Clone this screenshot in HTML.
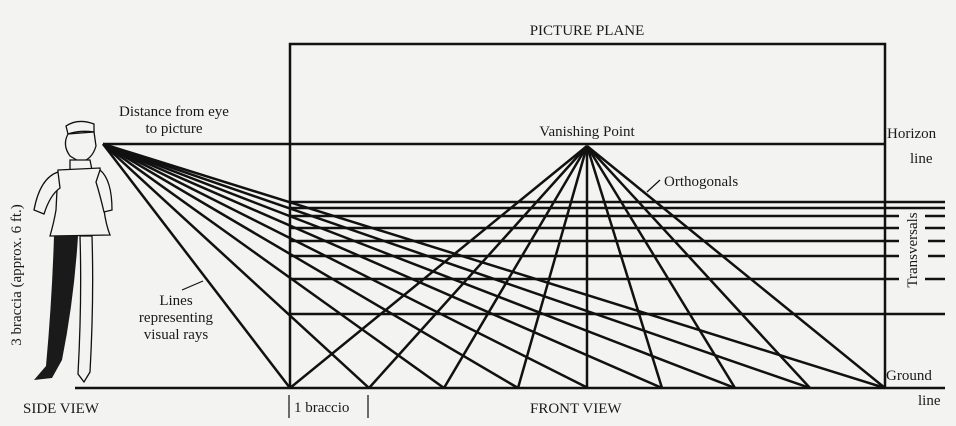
<!DOCTYPE html>
<html><head><meta charset="utf-8"><style>
html,body{margin:0;padding:0;background:#f3f3f1;}
svg{display:block;}
text{font-family:"Liberation Serif",serif;fill:#1a1a1a;}
</style></head><body>
<svg width="956" height="426" viewBox="0 0 956 426" xmlns="http://www.w3.org/2000/svg">
<rect width="956" height="426" fill="#f3f3f1"/>
<g stroke="#111" stroke-width="2.5" fill="none">
<polyline points="290,388 290,44 885,44 885,388"/>
<line x1="587" y1="146" x2="587" y2="388"/>
<line x1="103" y1="144" x2="885" y2="144"/>
<line x1="75" y1="388" x2="945" y2="388"/>
<g stroke-width="2.6">
<line x1="290" y1="202" x2="945" y2="202"/>
<line x1="290" y1="208" x2="945" y2="208"/>
<line x1="290" y1="216" x2="899" y2="216"/><line x1="925" y1="216" x2="945" y2="216"/>
<line x1="290" y1="228" x2="899" y2="228"/><line x1="925" y1="228" x2="945" y2="228"/>
<line x1="290" y1="241" x2="899" y2="241"/><line x1="928" y1="241" x2="945" y2="241"/>
<line x1="290" y1="256" x2="899" y2="256"/><line x1="928" y1="256" x2="945" y2="256"/>
<line x1="290" y1="279" x2="899" y2="279"/><line x1="925" y1="279" x2="945" y2="279"/>
<line x1="290" y1="314" x2="945" y2="314"/>
</g>
<line x1="587" y1="146" x2="290" y2="388"/>
<line x1="587" y1="146" x2="369" y2="388"/>
<line x1="587" y1="146" x2="444" y2="388"/>
<line x1="587" y1="146" x2="518" y2="388"/>
<line x1="587" y1="146" x2="662" y2="388"/>
<line x1="587" y1="146" x2="735" y2="388"/>
<line x1="587" y1="146" x2="810" y2="388"/>
<line x1="587" y1="146" x2="885" y2="388"/>
<line x1="103" y1="144" x2="290" y2="388"/>
<line x1="103" y1="144" x2="369" y2="388"/>
<line x1="103" y1="144" x2="444" y2="388"/>
<line x1="103" y1="144" x2="518" y2="388"/>
<line x1="103" y1="144" x2="588" y2="388"/>
<line x1="103" y1="144" x2="662" y2="388"/>
<line x1="103" y1="144" x2="735" y2="388"/>
<line x1="103" y1="144" x2="810" y2="388"/>
<line x1="103" y1="144" x2="885" y2="388"/>
<line x1="647" y1="192" x2="660" y2="180" stroke-width="1.2"/>
<line x1="182" y1="290" x2="203" y2="281" stroke-width="1.2"/>
<line x1="289" y1="395" x2="289" y2="418" stroke-width="1.2"/>
<line x1="368" y1="395" x2="368" y2="418" stroke-width="1.2"/>
</g>
<g stroke="#111" stroke-width="1.3" fill="#f3f3f1">
<path d="M66,126 Q78,118 94,124 L94,132 Q80,130 68,134 Z"/>
<path d="M68,134 Q62,145 70,156 L80,162 Q92,160 96,146 L94,132 Z"/>
<path d="M70,160 L90,160 L92,170 L70,170 Z"/>
<path d="M58,170 L100,168 L104,210 Q106,225 110,235 L50,236 Q54,222 56,210 Z"/>
<path d="M58,172 Q40,178 34,210 L44,214 Q50,195 60,188 Z"/>
<path d="M100,170 Q112,180 112,210 L104,212 Q100,195 96,182 Z"/>
<path d="M80,236 L92,236 Q94,300 90,372 L84,382 L78,374 Q82,300 80,236 Z"/>
</g>
<path d="M54,236 L78,236 Q74,300 62,360 L52,378 L34,380 L46,366 Q52,300 54,236 Z" fill="#1a1a1a"/>
<g font-size="15">
<text x="587" y="35" text-anchor="middle">PICTURE PLANE</text>
<text x="174" y="116" text-anchor="middle">Distance from eye</text>
<text x="174" y="133" text-anchor="middle">to picture</text>
<text x="587" y="136" text-anchor="middle">Vanishing Point</text>
<text x="664" y="186">Orthogonals</text>
<text x="887" y="138">Horizon</text>
<text x="910" y="163">line</text>
<text x="886" y="380">Ground</text>
<text x="918" y="405">line</text>
<text x="176" y="305" text-anchor="middle">Lines</text>
<text x="176" y="322" text-anchor="middle">representing</text>
<text x="176" y="339" text-anchor="middle">visual rays</text>
<text x="23" y="413">SIDE VIEW</text>
<text x="294" y="412">1 braccio</text>
<text x="530" y="413">FRONT VIEW</text>
<text transform="translate(21,275) rotate(-90)" text-anchor="middle">3 braccia (approx. 6 ft.)</text>
<text transform="translate(917,250) rotate(-90)" text-anchor="middle">Transversals</text>
</g>
</svg>
</body></html>
